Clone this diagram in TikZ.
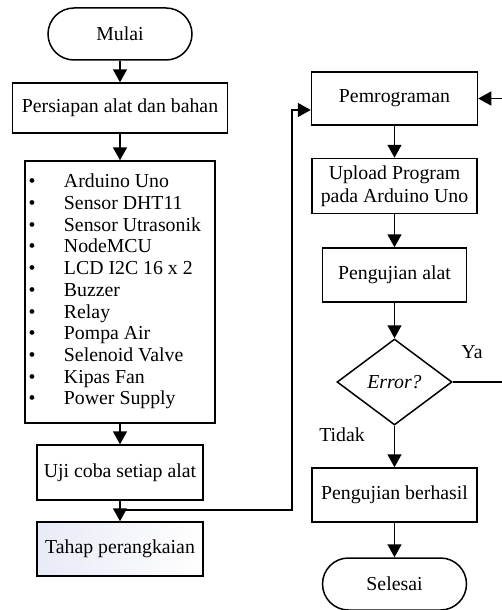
\documentclass[tikz,border=0pt]{standalone}
\usepackage{fontspec}
\setmainfont{Liberation Serif}
\usetikzlibrary{shapes.geometric,arrows.meta}
\definecolor{lavender}{RGB}{232,234,246}

\begin{document}
\begin{tikzpicture}
  [x=1pt,y=-1pt,line width=1.5pt,font=\fontsize{19.8}{21.7}\selectfont,
   kotak/.style={rectangle,draw,align=center,inner sep=2pt},
   ujung/.style={rectangle,draw,rounded corners=26pt,minimum width=144pt,minimum height=52pt},
   cabang/.style={diamond,draw,aspect=1.34,inner sep=0pt,minimum width=115pt,minimum height=86pt},
   panah/.style={-{Triangle[length=13pt,width=14pt]}}]
  \useasboundingbox (0,0) rectangle (502,610);
  % kolom kiri
  \node[ujung] (mulai) at (120,34) {Mulai};
  \node[kotak,minimum width=215pt,minimum height=50pt] (siap) at (120,108) {Persiapan alat dan bahan};
  \node[kotak,minimum width=190pt,minimum height=262pt,inner sep=0pt] (daftar) at (120,292)
    {\begin{tabular}{@{\hspace{3.5pt}}p{7pt}@{\hspace{28.5pt}}p{151pt}@{}}
      \textbullet & Arduino Uno\\
      \textbullet & Sensor DHT11\\
      \textbullet & Sensor Utrasonik\\
      \textbullet & NodeMCU\\
      \textbullet & LCD I2C 16 x 2\\
      \textbullet & Buzzer\\
      \textbullet & Relay\\
      \textbullet & Pompa Air\\
      \textbullet & Selenoid Valve\\
      \textbullet & Kipas Fan\\
      \textbullet & Power Supply
    \end{tabular}};
  \node[kotak,minimum width=166pt,minimum height=55pt] (uji) at (120,472.5) {Uji coba setiap alat};
  \node[kotak,minimum width=166pt,minimum height=54pt,left color=lavender,right color=white] (tahap) at (120,549) {Tahap perangkaian};
  % kolom kanan
  \node[kotak,minimum width=166pt,minimum height=53pt] (pemrog) at (394.5,98.5) {Pemrograman};
  \node[kotak,minimum width=165pt,minimum height=55pt] (upload) at (394.5,186) {Upload Program\\[1pt] pada Arduino Uno};
  \node[kotak,minimum width=144pt,minimum height=54pt] (alat) at (394.5,275) {Pengujian alat};
  \node[cabang] (error) at (394.5,382) {\itshape Error?};
  \node[kotak,minimum width=165pt,minimum height=54pt] (hasil) at (394.5,495) {Pengujian berhasil};
  \node[ujung] (selesai) at (394.5,584) {Selesai};
  \node (ya) at (472,352) {Ya};
  \node (tidak) at (342,435) {Tidak};

  \foreach \dari/\ke in {mulai/siap,siap/daftar,daftar/uji,uji/tahap,pemrog/upload,upload/alat,alat/error,error/hasil,hasil/selesai}
    \draw[panah] (\dari) -- (\ke);

  \coordinate (simpang) at (120,510);
  \coordinate (belok) at (292,110);
  \draw[panah] (simpang) -| (belok) -- (pemrog.west |- belok);
  \coordinate (kanan) at (506,382);
  \draw[panah] (error.east) -- (kanan) |- (pemrog.east);
\end{tikzpicture}
\end{document}
